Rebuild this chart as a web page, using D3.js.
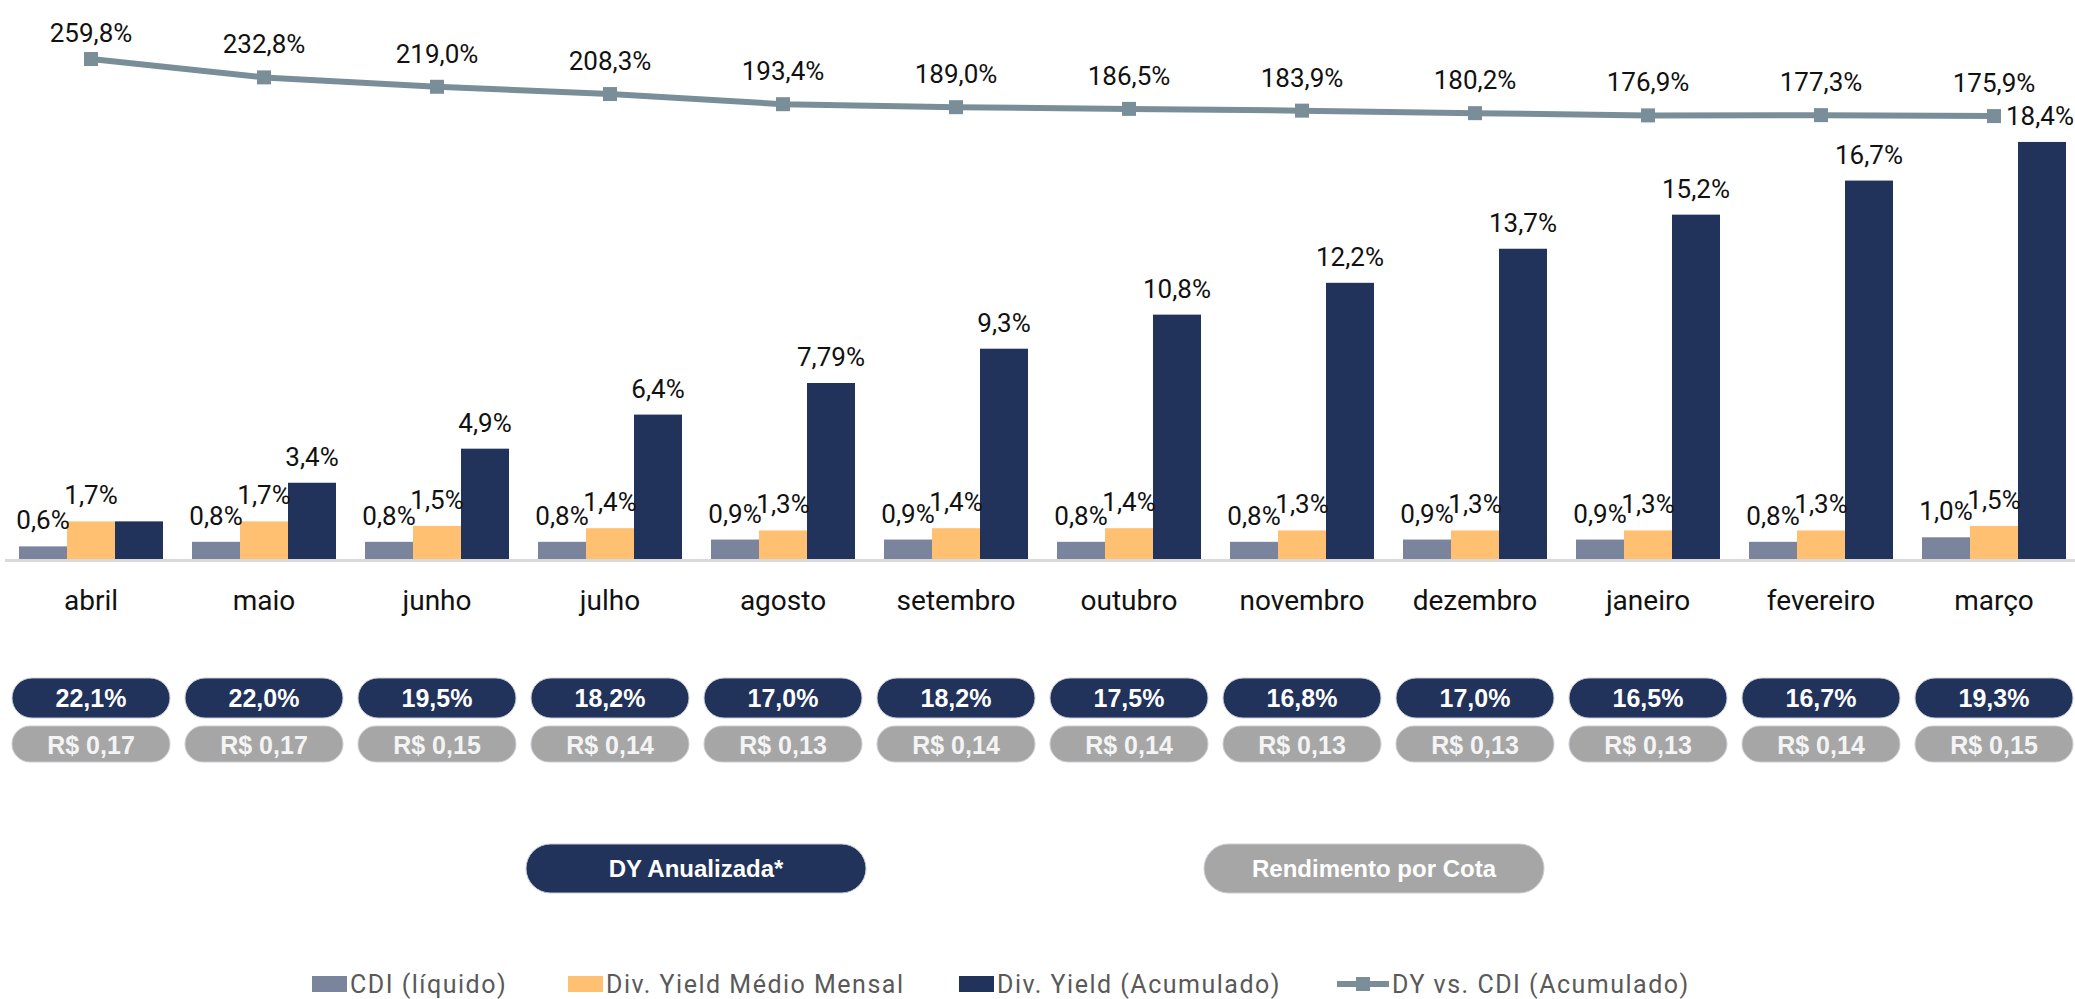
<!DOCTYPE html>
<html>
<head>
<meta charset="utf-8">
<script src="https://cdn.jsdelivr.net/npm/d3@7"></script>
<style>
  html, body { margin: 0; padding: 0; background: #fff; }
  svg { display: block; }
</style>
</head>
<body>
<svg id="chart" width="2075" height="999"></svg>
<script>
// data
var months = ["abril", "maio", "junho", "julho", "agosto", "setembro", "outubro", "novembro", "dezembro", "janeiro", "fevereiro", "março"];
var cdiLiquido = [0.6, 0.8, 0.8, 0.8, 0.9, 0.9, 0.8, 0.8, 0.9, 0.9, 0.8, 1.0];
var dyMensal = [1.7, 1.7, 1.5, 1.4, 1.3, 1.4, 1.4, 1.3, 1.3, 1.3, 1.3, 1.5];
var dyAcumulado = [1.7, 3.4, 4.9, 6.4, 7.79, 9.3, 10.8, 12.2, 13.7, 15.2, 16.7, 18.4];
var dyVsCdi = [259.8, 232.8, 219.0, 208.3, 193.4, 189.0, 186.5, 183.9, 180.2, 176.9, 177.3, 175.9];
var dyAnualizada = [22.1, 22.0, 19.5, 18.2, 17.0, 18.2, 17.5, 16.8, 17.0, 16.5, 16.7, 19.3];
var rendCota = [0.17, 0.17, 0.15, 0.14, 0.13, 0.14, 0.14, 0.13, 0.13, 0.13, 0.14, 0.15];
var seriesNames = ["CDI (líquido)", "Div. Yield Médio Mensal", "Div. Yield (Acumulado)", "DY vs. CDI (Acumulado)"];
var pillTitles = ["DY Anualizada*", "Rendimento por Cota"];

var colors = ["#7a849c", "#ffc072", "#21325b", "#7a8e9a"];
var svg = d3.select("#chart");

function pct(v, dec) {
    var s = v.toFixed(dec === undefined ? (Math.abs(v * 10 - Math.round(v * 10)) < 1e-6 ? 1 : 2) : dec);
    return s.replace(".", ",") + "%";
}

var x = d3.scaleBand().domain(months).range([4.5, 2080.5]).paddingInner(0.1676).paddingOuter(0.0838);
var xs = d3.scaleBand().domain([0, 1, 2]).range([0, x.bandwidth()]);
var y = d3.scaleLinear().domain([0, 20]).range([560, 105.6]);
var yLine = d3.scaleLinear().domain([150, 270]).range([133.7, 52.1]);
var cx = function (m) { return x(m) + x.bandwidth() / 2; };

// bars
var barSeries = [cdiLiquido, dyMensal, dyAcumulado];
var rows = [];
months.forEach(function (m, i) {
    barSeries.forEach(function (s, k) {
        rows.push({ m: m, k: k, v: s[i], i: i });
    });
});

var bars = svg.append("g");
bars.selectAll("rect").data(rows).join("rect")
    .attr("x", function (d) { return x(d.m) + xs(d.k); })
    .attr("y", function (d) { return y(d.v); })
    .attr("width", xs.bandwidth())
    .attr("height", function (d) { return y(0) - y(d.v); })
    .attr("fill", function (d) { return colors[d.k]; });

// no label on the first accumulated bar (same as monthly)
bars.selectAll("text").data(rows.filter(function (d) { return !(d.k === 2 && d.i === 0); })).join("text")
    .attr("x", function (d) { return Math.min(x(d.m) + xs(d.k) + xs.bandwidth() / 2, 2040); })
    .attr("y", function (d) { return y(d.v) - 17; })
    .attr("text-anchor", "middle")
    .attr("font-family", "Roboto, sans-serif")
    .attr("font-size", 26)
    .attr("fill", "#111")
    .text(function (d) { return pct(d.v); });

// axis
var axis = svg.append("g")
    .attr("transform", "translate(0," + y(0) + ")")
    .call(d3.axisBottom(x).tickSize(0).tickPadding(30));
axis.select(".domain").attr("stroke", "#d9d9d9").attr("stroke-width", 3);
axis.selectAll("text")
    .attr("font-family", "Roboto, sans-serif")
    .attr("font-size", 28)
    .attr("fill", "#111");

// line
var lineG = svg.append("g");
var line = d3.line().x(function (d, i) { return cx(months[i]); }).y(function (d) { return yLine(d); });
lineG.append("path").datum(dyVsCdi)
    .attr("d", line)
    .attr("fill", "none")
    .attr("stroke", colors[3])
    .attr("stroke-width", 6);
lineG.selectAll("rect").data(dyVsCdi).join("rect")
    .attr("x", function (d, i) { return cx(months[i]) - 7; })
    .attr("y", function (d) { return yLine(d) - 7; })
    .attr("width", 14).attr("height", 14)
    .attr("fill", colors[3]);
lineG.selectAll("text").data(dyVsCdi).join("text")
    .attr("x", function (d, i) { return cx(months[i]); })
    .attr("y", function (d) { return Math.max(yLine(d) - 24, 42); })
    .attr("text-anchor", "middle")
    .attr("font-family", "Roboto, sans-serif")
    .attr("font-size", 26)
    .attr("fill", "#111")
    .text(function (d) { return pct(d, 1); });

// pills under each month
var pillW = 158;
function pillRow(vals, top, h, fill, txtColor, baseline, fmt) {
    var g = svg.append("g");
    g.selectAll("rect").data(vals).join("rect")
        .attr("x", function (d, i) { return cx(months[i]) - pillW / 2; })
        .attr("y", top).attr("width", pillW).attr("height", h)
        .attr("rx", h / 2).attr("ry", h / 2)
        .attr("fill", fill).attr("stroke", "#c8ccd4").attr("stroke-width", 1);
    g.selectAll("text").data(vals).join("text")
        .attr("x", function (d, i) { return cx(months[i]); })
        .attr("y", baseline)
        .attr("text-anchor", "middle")
        .attr("font-family", "'Liberation Sans', Arial, sans-serif")
        .attr("font-weight", "bold")
        .attr("font-size", 25)
        .attr("fill", txtColor)
        .text(fmt);
}
pillRow(dyAnualizada, 678, 40, "#21325b", "#fff", 707, function (d) { return pct(d, 1); });
pillRow(rendCota, 726, 36, "#a6a6a6", "#f4f4f4", 754, function (d) { return "R$ " + d.toFixed(2).replace(".", ","); });

// big captions
var caps = [
    { t: pillTitles[0], c: 696, fill: "#21325b" },
    { t: pillTitles[1], c: 1374, fill: "#a6a6a6" }
];
var capG = svg.append("g");
capG.selectAll("rect").data(caps).join("rect")
    .attr("x", function (d) { return d.c - 170; })
    .attr("y", 844).attr("width", 340).attr("height", 49)
    .attr("rx", 24.5).attr("ry", 24.5)
    .attr("fill", function (d) { return d.fill; })
    .attr("stroke", "#c8ccd4").attr("stroke-width", 1);
capG.selectAll("text").data(caps).join("text")
    .attr("x", function (d) { return d.c; })
    .attr("y", 877)
    .attr("text-anchor", "middle")
    .attr("font-family", "'Liberation Sans', Arial, sans-serif")
    .attr("font-weight", "bold")
    .attr("font-size", 24)
    .attr("fill", "#fff")
    .text(function (d) { return d.t; });

// legend
var legX = [312, 568, 959, 1337];
var leg = svg.append("g").attr("transform", "translate(0,984)");
seriesNames.forEach(function (name, k) {
    var g = leg.append("g").attr("transform", "translate(" + legX[k] + ",0)");
    var tx;
    if (k < 3) {
        g.append("rect").attr("x", 0).attr("y", -8).attr("width", 35).attr("height", 16).attr("fill", colors[k]);
        tx = 38;
    } else {
        g.append("line").attr("x1", 0).attr("x2", 52).attr("y1", 0).attr("y2", 0)
            .attr("stroke", colors[3]).attr("stroke-width", 6);
        g.append("rect").attr("x", 19).attr("y", -7).attr("width", 14).attr("height", 14).attr("fill", colors[3]);
        tx = 55;
    }
    g.append("text").attr("x", tx).attr("y", 9)
        .attr("font-family", "Roboto, sans-serif")
        .attr("font-size", 25)
        .attr("letter-spacing", 1.5)
        .attr("fill", "#595959")
        .text(name);
});
</script>
</body>
</html>
